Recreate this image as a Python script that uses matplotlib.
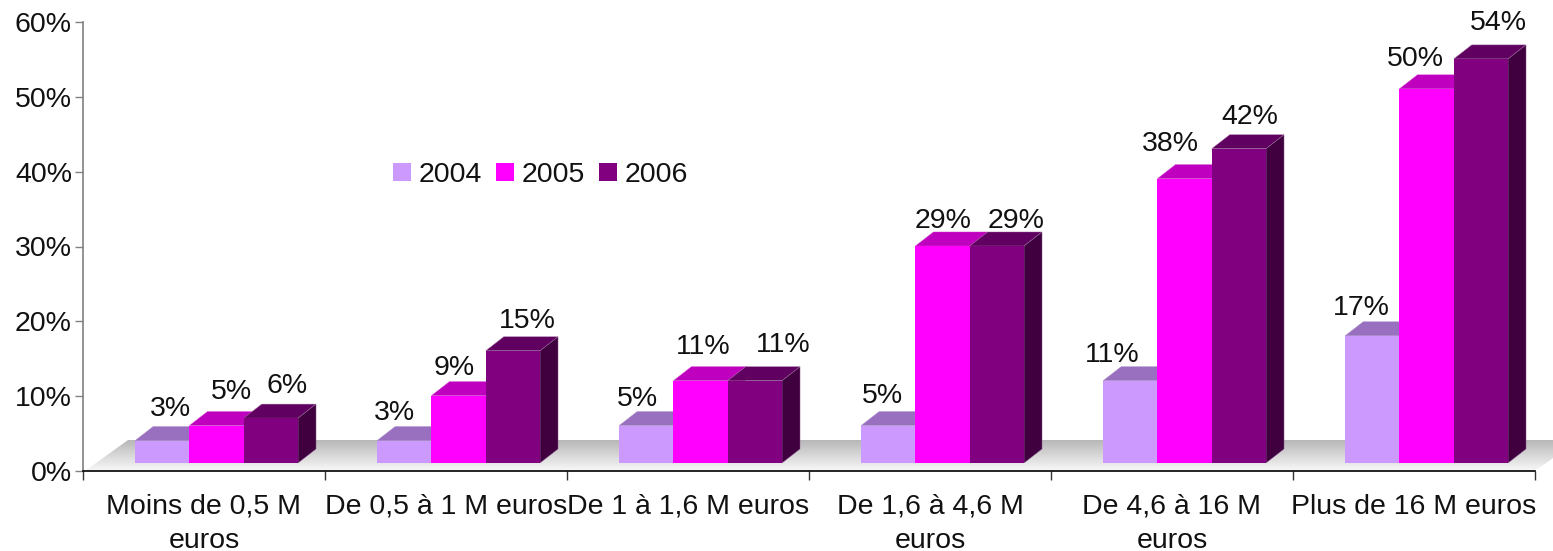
"""
Bar chart with fake 3D look, by size class and year
"""
import numpy as np
import matplotlib
matplotlib.use('Agg')
import matplotlib.pyplot as plt
from matplotlib.patches import Polygon
from matplotlib.transforms import ScaledTranslation

plt.rcParams['font.family'] = ['Liberation Sans', 'DejaVu Sans']

# data
categories = ['Moins de 0,5 M\neuros', 'De 0,5 à 1 M euros', 'De 1 à 1,6 M euros',
              'De 1,6 à 4,6 M\neuros', 'De 4,6 à 16 M\neuros', 'Plus de 16 M euros']
years = ['2004', '2005', '2006']
values_2004 = [3, 3, 5, 5, 11, 17]
values_2005 = [5, 9, 11, 29, 38, 50]
values_2006 = [6, 15, 11, 29, 42, 54]
y_ticks = [0, 10, 20, 30, 40, 50, 60]

# colours: front, top, side
front_colors = ['#CC99FF', '#FF00FF', '#800080']
top_colors = ['#9970BF', '#BF00BF', '#600060']
side_colors = ['#7A5C99', '#990099', '#400040']
edge_colors = ['#A888C8', '#D040D0', '#A070A0']

# label offsets from the middle of the front top edge, in pixels
label_dx = [[8, 15, 16], [-10, -4, 14], [-9, 3, 28], [-6, 0, 19], [-18, -14, 11], [-11, -11, 18]]
label_dy = [[32, 34, 32], [28, 28, 30], [27, 34, 36], [30, 25, 25], [26, 35, 32], [28, 30, 36]]

W, H = 1553, 551
AX_L, AX_R, AX_T, AX_B = 83, 1535, 22, 471
FS = 20.5

fig = plt.figure(figsize=(W / 100, H / 100), dpi=100)
ax = fig.add_axes([AX_L / W, 1 - AX_B / H, (AX_R - AX_L) / W, (AX_B - AX_T) / H])

px_x = len(categories) / (AX_R - AX_L)  # one pixel in x data units
px_y = 60 / (AX_B - AX_T)
bar_w = 54.3 * px_x
center = 0.552
base = 8 * px_y        # bars stand above the zero line on the floor
depth_x = 18 * px_x
depth_y = 14 * px_y

# floor with grey gradient, runs past the axes up to the figure edge
floor_back = 31 * px_y
floor = Polygon([(2 * px_x, 0), (45 * px_x, floor_back), (len(categories) + 43 * px_x, floor_back),
                 (len(categories), 0)], closed=True, transform=ax.transData,
                facecolor='none', edgecolor='none', clip_on=False)
ax.add_patch(floor)
grad = np.linspace(0, 1, 64).reshape(-1, 1)
floor_cmap = matplotlib.colors.LinearSegmentedColormap.from_list('f', ['#B8B8B8', '#F8F8F8'])
im = ax.imshow(grad, cmap=floor_cmap, extent=[0, len(categories) + 50 * px_x, 0, floor_back],
               aspect='auto', zorder=1, origin='upper')
im.set_clip_box(fig.bbox)
im.set_clip_path(floor)

# bars, left to right so that each one hides the side of the previous
series = [values_2004, values_2005, values_2006]
x = np.arange(len(categories)) + center
handles = []
for g in range(len(categories)):
    for s in range(3):
        xs = x[g] + (s - 1) * bar_w
        v = series[s][g]
        left, right = xs - bar_w / 2, xs + bar_w / 2
        top = base + v
        z = 2 + g * 3 + s
        ax.add_patch(Polygon([(left, top), (right, top), (right + depth_x, top + depth_y),
                              (left + depth_x, top + depth_y)], closed=True, facecolor=top_colors[s],
                             edgecolor=edge_colors[s], linewidth=0.3, zorder=z, clip_on=False))
        ax.add_patch(Polygon([(right, base), (right + depth_x, base + depth_y),
                              (right + depth_x, top + depth_y), (right, top)], closed=True,
                             facecolor=side_colors[s], edgecolor=edge_colors[s], linewidth=0.3,
                             zorder=z, clip_on=False))
        b = ax.bar(xs, v, bar_w, bottom=base, color=front_colors[s], linewidth=0, zorder=z, label=years[s])
        if g == 0:
            handles.append(b)
        ax.annotate(f'{v}%', (xs, top), xytext=(label_dx[g][s] * 0.72, label_dy[g][s] * 0.72),
                    textcoords='offset points', ha='center', va='center', fontsize=FS,
                    color='#111111', zorder=100, annotation_clip=False)

ax.set_xlim(0, len(categories))
ax.set_ylim(0, 60)

ax.set_yticks(y_ticks)
ax.set_yticklabels([f'{t}%' for t in y_ticks], fontsize=FS, color='#111111')
# tick labels sit a bit lower than the tick itself
for lab in ax.get_yticklabels():
    lab.set_transform(lab.get_transform() + ScaledTranslation(0, -1.5 / 72, fig.dpi_scale_trans))
ax.set_xticks(np.arange(len(categories) + 1))
ax.set_xticklabels([])
ax.set_xticks(np.arange(len(categories)) + 0.5, minor=True)
ax.set_xticklabels(categories, minor=True, fontsize=FS, color='#111111', linespacing=1.4)
ax.tick_params(axis='x', which='major', length=6.5, width=1, color='#333333')
ax.tick_params(axis='x', which='minor', length=0, pad=16.5)
ax.tick_params(axis='y', length=6, width=1, color='#808080', pad=2)

ax.spines['top'].set_visible(False)
ax.spines['right'].set_visible(False)
ax.spines['left'].set_color('#808080')
ax.spines['left'].set_linewidth(1.2)
ax.spines['bottom'].set_color('black')
ax.spines['bottom'].set_linewidth(1.2)
ax.spines['bottom'].set_zorder(60)

leg = ax.legend(handles=handles, labels=years, ncol=3, frameon=False, fontsize=FS,
                loc='center left', bbox_to_anchor=(393 / W, 1 - 175 / H),
                bbox_transform=fig.transFigure, borderpad=0, borderaxespad=0,
                handlelength=0.63, handleheight=0.63, handletextpad=0.28, columnspacing=0.48,
                labelcolor='#111111')
leg.set_zorder(100)

plt.savefig('out.png', dpi=100)
plt.close()
